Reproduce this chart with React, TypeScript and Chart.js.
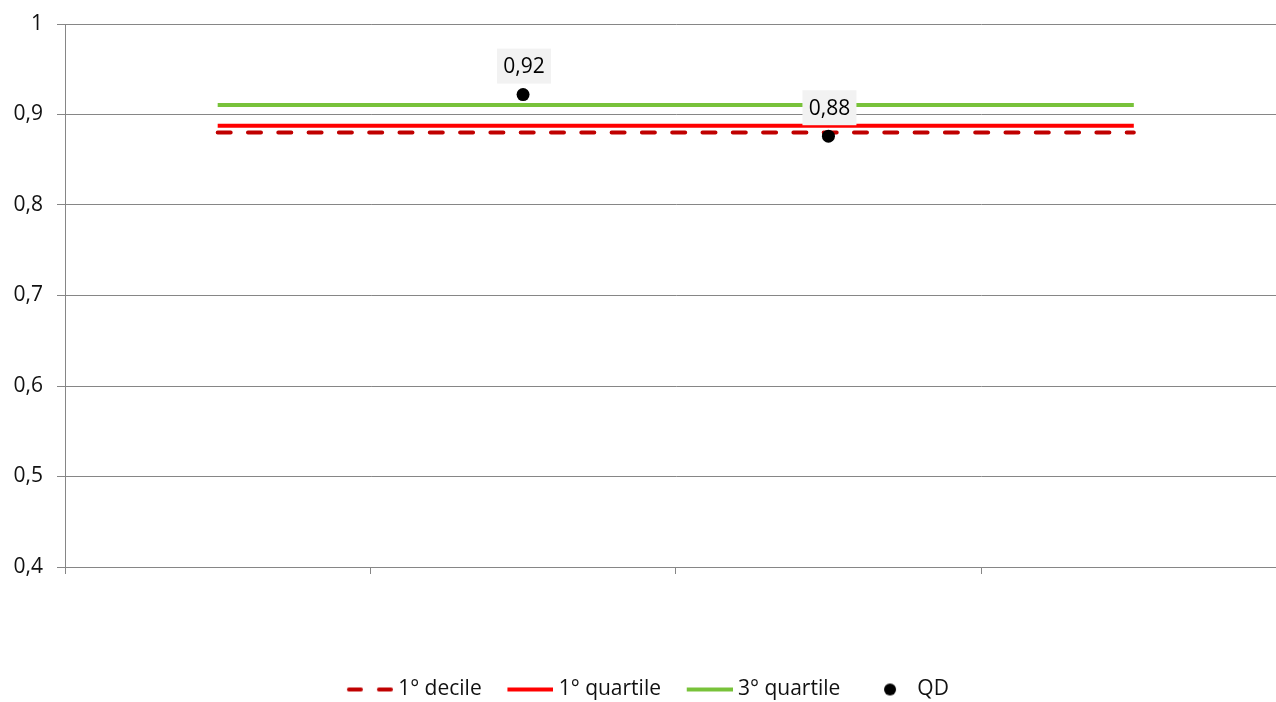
import React, { useEffect, useRef } from 'react';
import { Chart, registerables } from 'chart.js';

Chart.register(...registerables);

// ---- data ----
const categories = ['1', '2', '3', '4'];
const decile1 = [0.88, 0.88, 0.88, 0.88];
const quartile1 = [0.8876, 0.8876, 0.8876, 0.8876];
const quartile3 = [0.9105, 0.9105, 0.9105, 0.9105];
const qdValues: (number | null)[] = [null, 0.922, 0.876, null];
const seriesNames = ['1° decile', '1° quartile', '3° quartile', 'QD'];
const yMin = 0.4;
const yMax = 1;
const yStep = 0.1;

const FONT = '"Open Sans", "Noto Sans", sans-serif';
const GRID = '#868686';
const DARKRED = '#C00000';
const RED = '#FF0000';
const GREEN = '#78C23A';

function lineSwatch(color: string, dashed: boolean): HTMLCanvasElement {
  const c = document.createElement('canvas');
  c.width = 51;
  c.height = 8;
  const g = c.getContext('2d')!;
  g.strokeStyle = color;
  g.lineWidth = 4;
  if (dashed) {
    g.lineCap = 'round';
    g.beginPath();
    g.moveTo(7, 4);
    g.lineTo(19, 4);
    g.moveTo(37, 4);
    g.lineTo(49, 4);
    g.stroke();
  } else {
    g.lineCap = 'butt';
    g.beginPath();
    g.moveTo(5, 4);
    g.lineTo(51, 4);
    g.stroke();
  }
  return c;
}

function dotSwatch(): HTMLCanvasElement {
  const c = document.createElement('canvas');
  c.width = 21;
  c.height = 14;
  const g = c.getContext('2d')!;
  g.fillStyle = '#000';
  g.beginPath();
  g.arc(14, 7, 6, 0, Math.PI * 2);
  g.fill();
  return c;
}

const qdLabelPlugin = {
  id: 'qdLabels',
  afterDatasetsDraw(chart: any) {
    const meta = chart.getDatasetMeta(3);
    const ctx = chart.ctx;
    ctx.save();
    ctx.font = `21px ${FONT}`;
    ctx.textAlign = 'center';
    ctx.textBaseline = 'middle';
    meta.data.forEach((el: any, i: number) => {
      const v = qdValues[i];
      if (v == null) return;
      const text = v.toFixed(2).replace('.', ',');
      const cx = el.x + 1;
      const cy = el.y - 28.5;
      ctx.fillStyle = '#F2F2F2';
      ctx.fillRect(cx - 27, cy - 17.5, 54, 35);
      ctx.fillStyle = '#000';
      ctx.fillText(text, cx, cy + 1);
    });
    ctx.restore();
  },
};

export default function App() {
  const ref = useRef<HTMLCanvasElement>(null);

  useEffect(() => {
    if (!ref.current) return;
    const swatches = [
      lineSwatch(DARKRED, true),
      lineSwatch(RED, false),
      lineSwatch(GREEN, false),
      dotSwatch(),
    ];
    const chart = new Chart(ref.current, {
      type: 'line',
      data: {
        labels: categories,
        datasets: [
          {
            label: seriesNames[0],
            data: decile1,
            borderColor: DARKRED,
            borderWidth: 4,
            borderDash: [13, 17.3],
            borderCapStyle: 'round',
            pointRadius: 0,
            fill: false,
            order: 3,
          },
          {
            label: seriesNames[1],
            data: quartile1,
            borderColor: RED,
            borderWidth: 4,
            pointRadius: 0,
            fill: false,
            order: 2,
          },
          {
            label: seriesNames[2],
            data: quartile3,
            borderColor: GREEN,
            borderWidth: 4,
            pointRadius: 0,
            fill: false,
            order: 1,
          },
          {
            label: seriesNames[3],
            data: qdValues,
            showLine: false,
            pointRadius: 6.5,
            pointBackgroundColor: '#000',
            pointBorderColor: '#000',
            pointBorderWidth: 0,
            order: 0,
          },
        ],
      },
      options: {
        animation: false,
        responsive: true,
        maintainAspectRatio: false,
        layout: { padding: { top: 24, right: 0, left: 3, bottom: 0 } },
        plugins: {
          tooltip: { enabled: false },
          legend: {
            position: 'bottom',
            labels: {
              usePointStyle: true,
              pointStyleWidth: 40.5,
              padding: 26,
              color: '#111',
              font: { family: FONT, size: 21 },
              generateLabels: () =>
                seriesNames.map((name, i) => ({
                  text: name,
                  pointStyle: swatches[i],
                  fillStyle: 'transparent',
                  strokeStyle: 'transparent',
                  lineWidth: 0,
                  hidden: false,
                  datasetIndex: i,
                  fontColor: '#111',
                })),
            },
          },
        },
        scales: {
          x: {
            type: 'category',
            offset: true,
            grid: {
              offset: true,
              drawOnChartArea: false,
              drawTicks: true,
              tickLength: 7,
              color: GRID,
            },
            border: { display: true, color: GRID },
            ticks: { display: false },
            afterFit: (s: any) => {
              s.height = 86;
              s.paddingLeft = 0;
              s.paddingRight = 0;
            },
          },
          y: {
            min: yMin,
            max: yMax,
            grid: { color: GRID, tickLength: 8, drawTicks: true },
            border: { display: true, color: GRID },
            ticks: {
              stepSize: yStep,
              padding: 14,
              color: '#111',
              font: { family: FONT, size: 21, lineHeight: 0.95 },
              callback: (v: any) => String(Math.round(Number(v) * 10) / 10).replace('.', ','),
            },
            afterFit: (s: any) => {
              s.width = 62;
            },
          },
        },
      },
      plugins: [qdLabelPlugin],
    } as any);
    return () => chart.destroy();
  }, []);

  return (
    <div
      style={{
        position: 'fixed',
        left: 0,
        top: 0,
        width: 1276,
        height: 702,
        overflow: 'hidden',
        background: '#fff',
      }}
    >
      <div style={{ position: 'relative', width: 1293, height: 710 }}>
        <canvas ref={ref} />
      </div>
    </div>
  );
}
